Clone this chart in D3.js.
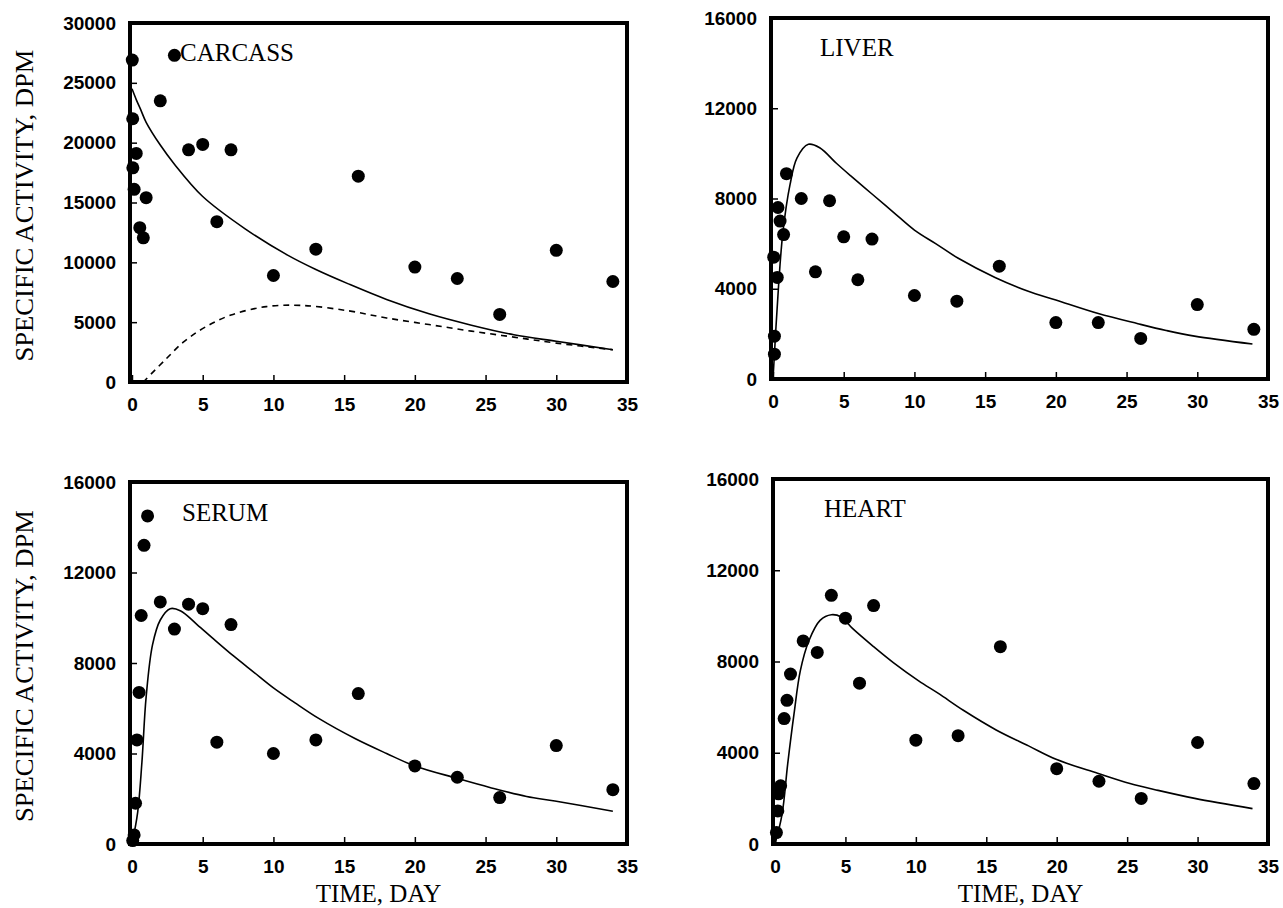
<!DOCTYPE html>
<html>
<head>
<meta charset="utf-8">
<script src="https://cdn.jsdelivr.net/npm/d3@7"></script>
<style>
body { margin: 0; background: #fff; }
svg { display: block; }
.tick text { font-family: "Liberation Sans", Arial, sans-serif; font-weight: bold; font-size: 19px; fill: #000; }
.tick line { stroke: #000; stroke-width: 1.5; }
.title { font-family: "Liberation Serif", "Times New Roman", serif; fill: #000; }
</style>
</head>
<body>
<svg id="chart" width="1283" height="908"></svg>
<script>
const dayTicks = [0, 5, 10, 15, 20, 25, 30, 35];
const carcassTicks = [0, 5000, 10000, 15000, 20000, 25000, 30000];
const organTicks = [0, 4000, 8000, 12000, 16000];

// measured points, day / dpm
const carcassDays = [0.02, 0.05, 0.3, 0.06, 0.15, 0.55, 0.8, 1, 2, 3, 4, 5, 6, 7, 10, 13, 16, 20, 23, 26, 30, 34];
const carcassDpm = [26900, 22000, 19100, 17900, 16100, 12900, 12050, 15400, 23500, 27300, 19400, 19850, 13400, 19400, 8900, 11100, 17200, 9600, 8650, 5650, 11000, 8400];
const liverDays = [0.1, 0.1, 0.05, 0.3, 0.35, 0.5, 0.75, 0.95, 2, 3, 4, 5, 6, 7, 10, 13, 16, 20, 23, 26, 30, 34];
const liverDpm = [1100, 1900, 5400, 4500, 7600, 7000, 6400, 9100, 8000, 4750, 7900, 6300, 4400, 6200, 3700, 3450, 5000, 2500, 2500, 1800, 3300, 2200];
const serumDays = [0.05, 0.15, 0.25, 0.35, 0.5, 0.65, 0.85, 1.1, 2, 3, 4, 5, 6, 7, 10, 13, 16, 20, 23, 26, 30, 34];
const serumDpm = [150, 400, 1800, 4600, 6700, 10100, 13200, 14500, 10700, 9500, 10600, 10400, 4500, 9700, 4000, 4600, 6650, 3450, 2950, 2050, 4350, 2400];
const heartDays = [0.1, 0.2, 0.25, 0.4, 0.65, 0.85, 1.1, 2, 3, 4, 5, 6, 7, 10, 13, 16, 20, 23, 26, 30, 34];
const heartDpm = [500, 1450, 2200, 2550, 5500, 6300, 7450, 8900, 8400, 10900, 9900, 7050, 10450, 4550, 4750, 8650, 3300, 2750, 2000, 4450, 2650];

// model curves, [day, dpm]
const carcassFit = [[0, 24500], [0.3, 23600], [0.6, 22800], [1, 21700], [2, 19800], [3, 18200], [5, 15500], [8, 12800], [11, 10600], [13, 9400], [15.3, 8200], [18, 6900], [21, 5700], [24, 4750], [27, 3950], [30, 3400], [34, 2700]];
const carcassDashed = [[0.8, 0], [2.3, 1800], [3.7, 3400], [5.2, 4600], [7, 5600], [9.5, 6300], [12, 6400], [15.3, 5950], [18, 5350], [21, 4800], [24, 4250], [27, 3750], [30, 3250], [34, 2700]];
const liverFit = [[0, 0], [0.4, 4200], [0.7, 6500], [1.2, 8600], [1.7, 9800], [2.5, 10400], [3.3, 10250], [4.5, 9550], [5.5, 9000], [7, 8200], [8.5, 7400], [10, 6600], [11.5, 6000], [13.1, 5350], [15.7, 4500], [18, 3900], [20, 3500], [23, 2900], [25.8, 2450], [27.8, 2150], [29.8, 1900], [33.9, 1550]];
const serumFit = [[0, 0], [0.4, 1400], [0.7, 3600], [1, 6500], [1.45, 8800], [2, 9900], [2.7, 10400], [3.45, 10300], [4.6, 9700], [5.7, 9100], [7.2, 8300], [8.6, 7600], [10, 6900], [11.5, 6250], [13.2, 5550], [15.8, 4650], [18, 4000], [20, 3450], [23, 2900], [25.3, 2500], [27.9, 2100], [29.9, 1900], [34, 1450]];
const heartFit = [[0, 0], [0.5, 1300], [0.9, 3500], [1.35, 5700], [1.8, 7600], [2.4, 8900], [3.2, 9800], [4, 10050], [4.7, 9950], [5.5, 9450], [7, 8650], [8.4, 7950], [10.2, 7150], [11.6, 6600], [13.4, 5850], [15.7, 5000], [18, 4300], [20, 3700], [22.9, 3100], [25.2, 2650], [27.2, 2350], [29.8, 2000], [33.9, 1550]];

const panels = [
	{ name: "CARCASS", days: carcassDays, dpm: carcassDpm, fit: carcassFit, dashed: carcassDashed, ticks: carcassTicks, box: [130, 23, 627, 382], label: [180, 61], yTitle: true, xTitle: false },
	{ name: "LIVER", days: liverDays, dpm: liverDpm, fit: liverFit, dashed: null, ticks: organTicks, box: [771, 18, 1268, 379], label: [820, 56], yTitle: false, xTitle: false },
	{ name: "SERUM", days: serumDays, dpm: serumDpm, fit: serumFit, dashed: null, ticks: organTicks, box: [130, 482, 627, 844], label: [182, 521], yTitle: true, xTitle: true },
	{ name: "HEART", days: heartDays, dpm: heartDpm, fit: heartFit, dashed: null, ticks: organTicks, box: [773, 479, 1268, 844], label: [824, 517], yTitle: false, xTitle: true }
];

const svg = d3.select("#chart");

panels.forEach(p => {
	const [left, top, right, bottom] = p.box;
	const x = d3.scaleLinear().domain([0, 35]).range([left + 2, right]);
	const y = d3.scaleLinear().domain([0, d3.max(p.ticks)]).range([bottom, top]);
	const g = svg.append("g");

	// inward ticks on bottom and left, labels outside, no thousands separator
	g.append("g").attr("transform", `translate(0,${bottom})`)
		.call(d3.axisBottom(x).tickValues(dayTicks).tickFormat(d3.format("d")).tickSizeInner(-7).tickSizeOuter(0).tickPadding(16))
		.call(a => a.select(".domain").remove());
	g.append("g").attr("transform", `translate(${left},0)`)
		.call(d3.axisLeft(y).tickValues(p.ticks).tickFormat(d3.format("d")).tickSizeInner(-7).tickSizeOuter(0).tickPadding(14))
		.call(a => a.select(".domain").remove());

	const line = d3.line().x(d => x(d[0])).y(d => y(d[1])).curve(d3.curveCatmullRom.alpha(0.5));
	g.append("path").attr("d", line(p.fit)).attr("fill", "none").attr("stroke", "#000").attr("stroke-width", 1.6);
	if(p.dashed) {
		g.append("path").attr("d", line(p.dashed)).attr("fill", "none").attr("stroke", "#000").attr("stroke-width", 1.6).attr("stroke-dasharray", "6,5");
	}

	g.append("rect").attr("x", left).attr("y", top).attr("width", right - left).attr("height", bottom - top)
		.attr("fill", "none").attr("stroke", "#000").attr("stroke-width", 4);

	g.selectAll("circle").data(p.days).enter().append("circle")
		.attr("cx", d => x(d)).attr("cy", (d, i) => y(p.dpm[i])).attr("r", 6.5).attr("fill", "#000");

	g.append("text").attr("class", "title").attr("x", p.label[0]).attr("y", p.label[1])
		.attr("font-size", 25).text(p.name);

	if(p.yTitle) {
		g.append("text").attr("class", "title").attr("text-anchor", "middle").attr("font-size", 26)
			.attr("transform", `translate(33,${(top + bottom) / 2 + 3}) rotate(-90)`)
			.attr("textLength", 312).attr("lengthAdjust", "spacingAndGlyphs")
			.text("SPECIFIC ACTIVITY, DPM");
	}
	if(p.xTitle) {
		g.append("text").attr("class", "title").attr("text-anchor", "middle").attr("font-size", 25)
			.attr("x", (left + right) / 2).attr("y", bottom + 58).text("TIME, DAY");
	}
});
</script>
</body>
</html>
